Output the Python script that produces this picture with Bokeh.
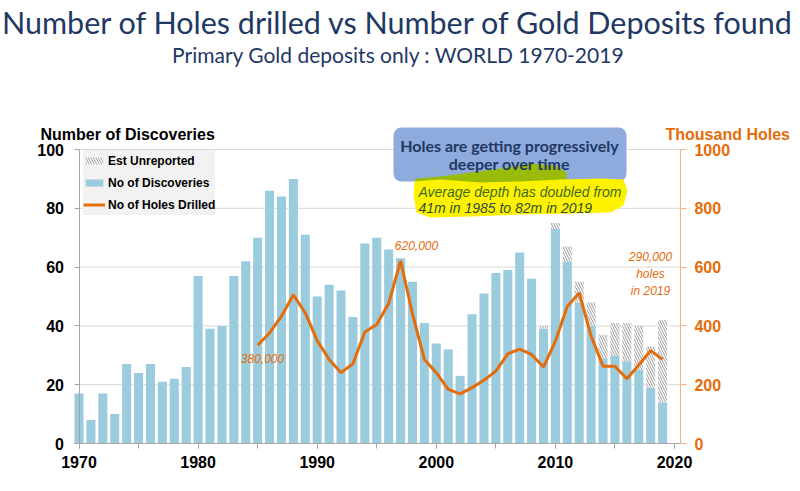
from bokeh.plotting import figure
from bokeh.models import (Range1d, LinearAxis, SingleIntervalTicker, Label, BoxAnnotation,
                          PolyAnnotation, Legend, LegendItem, ColumnDataSource)
from bokeh.embed import file_html
from bokeh.resources import INLINE

# ---------------- data ----------------
years = list(range(1970, 2020))
discoveries = [17, 8, 17, 10, 27, 24, 27, 21, 22, 26,
               57, 39, 40, 57, 62, 70, 86, 84, 90, 71,
               50, 54, 52, 43, 68, 70, 66, 63, 55, 41,
               34, 32, 23, 44, 51, 58, 59, 65, 56, 39,
               73, 62, 48, 40, 29, 30, 28, 25, 19, 14]
unreported = [0] * 39 + [1, 2, 5, 7, 8, 8, 11, 13, 15, 14, 28]

holes_years = list(range(1985, 2020))
holes_thousand = [334, 376, 433, 506, 444, 350, 286, 241, 271, 379,
                  405, 476, 621, 441, 286, 241, 184, 169, 190, 215,
                  246, 305, 321, 303, 260, 348, 467, 512, 365, 263,
                  263, 220, 267, 316, 286]

left_ticks = [0, 20, 40, 60, 80, 100]
right_ticks = [0, 200, 400, 600, 800, 1000]
x_ticks_interval = 10
x_axis_span = (1970, 2020.5)

# ---------------- styling ----------------
NAVY = "#1F3864"
ORANGE = "#E46C0A"
BAR = "#9BCCDE"
GRID = "#D9D9D9"
AXIS = "#A6A6A6"

W, H = 800, 491
PXX = 11.91            # px per year
PXY = 2.94             # px per discovery unit
X_LEFT = 1970 - 78.5 / PXX
Y_BOTTOM = -(H - 443) / PXY


def px2x(px):
    return X_LEFT + px / PXX


def px2y(py):
    return (443 - py) / PXY


p = figure(width=W, height=H, output_backend="svg", toolbar_location=None,
           x_range=Range1d(X_LEFT, X_LEFT + W / PXX),
           y_range=Range1d(Y_BOTTOM, Y_BOTTOM + H / PXY),
           min_border=0, x_axis_location=None, y_axis_location=None)
p.title.visible = False
p.extra_y_ranges = {"holes": Range1d(Y_BOTTOM * 10, (Y_BOTTOM + H / PXY) * 10)}
p.outline_line_color = None
p.grid.visible = False

# grid lines (behind bars)
p.segment(x0=x_axis_span[0], x1=x_axis_span[1], y0=left_ticks[1:], y1=left_ticks[1:],
          line_color=GRID, line_width=1)

# bars
src = ColumnDataSource(dict(year=years, disc=discoveries,
                            total=[d + u for d, u in zip(discoveries, unreported)]))
bars = p.vbar(x="year", top="disc", width=0.76, source=src,
              fill_color=BAR, line_color=None)
hatch = p.vbar(x="year", bottom="disc", top="total", width=0.76, source=src,
               fill_color="white", line_color=None,
               hatch_pattern="\\", hatch_color="#9A9A9A", hatch_scale=5, hatch_weight=1)

line = p.line(holes_years, holes_thousand, y_range_name="holes",
              line_color=ORANGE, line_width=3)

# axes (drawn at fixed locations so the frame can cover the whole canvas)
xa = LinearAxis(fixed_location=0, bounds=x_axis_span,
                ticker=SingleIntervalTicker(interval=x_ticks_interval, num_minor_ticks=2))
xa.axis_line_color = AXIS
xa.major_tick_line_color = AXIS
xa.minor_tick_line_color = AXIS
xa.major_tick_in = 0
xa.major_tick_out = 5
xa.minor_tick_in = 0
xa.minor_tick_out = 5
xa.major_label_standoff = 7
xa.major_label_text_font = "Liberation Sans"
xa.major_label_text_font_style = "bold"
xa.major_label_text_font_size = "16px"
xa.major_label_text_color = "black"
p.add_layout(xa, "below")

ya = LinearAxis(fixed_location=x_axis_span[0], bounds=(left_ticks[0], left_ticks[-1]),
                ticker=SingleIntervalTicker(interval=left_ticks[1], num_minor_ticks=0))
ya.axis_line_color = AXIS
ya.major_tick_line_color = AXIS
ya.minor_tick_line_color = None
ya.major_tick_in = 0
ya.major_tick_out = 5
ya.major_label_standoff = 10
ya.major_label_text_font = "Liberation Sans"
ya.major_label_text_font_style = "bold"
ya.major_label_text_font_size = "16px"
ya.major_label_text_color = "black"
p.add_layout(ya, "left")

ra = LinearAxis(y_range_name="holes", fixed_location=x_axis_span[1],
                bounds=(right_ticks[0], right_ticks[-1]),
                ticker=SingleIntervalTicker(interval=right_ticks[1], num_minor_ticks=0))
ra.axis_line_color = "#F4B183"
ra.major_tick_line_color = "#F4B183"
ra.minor_tick_line_color = None
ra.major_tick_in = 0
ra.major_tick_out = 6
ra.major_label_standoff = 8
ra.major_label_text_font = "Liberation Sans"
ra.major_label_text_font_style = "bold"
ra.major_label_text_font_size = "16px"
ra.major_label_text_color = ORANGE
p.add_layout(ra, "right")

# legend
legend = Legend(items=[LegendItem(label="Est Unreported", renderers=[hatch]),
                       LegendItem(label="No of Discoveries", renderers=[bars]),
                       LegendItem(label="No of Holes Drilled", renderers=[line])],
                location=(83, H - 215), orientation="vertical",
                background_fill_color="#F2F2F2", background_fill_alpha=1,
                border_line_color=None, padding=4, spacing=1, margin=0,
                glyph_width=22, glyph_height=9, label_height=21, label_standoff=3,
                label_text_font="Liberation Sans", label_text_font_style="bold",
                label_text_font_size="12px", label_text_color="black")
p.add_layout(legend)


def text(txt, cx, cy, size, color, font="Liberation Sans", style="normal", align="center"):
    p.add_layout(Label(x=px2x(cx), y=px2y(cy), text=txt, text_align=align,
                       text_baseline="middle", text_font=font, text_font_style=style,
                       text_font_size=size, text_color=color))


# titles
text("Number of Holes drilled vs Number of Gold Deposits found", 398, 21, "30.5px", NAVY, font="Lato")
text("Primary Gold deposits only : WORLD 1970-2019", 398, 54, "21px", NAVY, font="Lato")
text("Number of Discoveries", 40, 134, "16px", "black", style="bold", align="left")
text("Thousand Holes", 665, 134, "16px", ORANGE, style="bold", align="left")

# callout box + highlighter strokes
p.add_layout(BoxAnnotation(left=px2x(393), right=px2x(626), bottom=px2y(181), top=px2y(127),
                           fill_color="#8FAADC", fill_alpha=1, line_color=None,
                           border_radius=8))
green_px = [(415, 181), (415, 178), (440, 176), (470, 172), (500, 168), (530, 163),
            (555, 165), (566, 172), (566, 181), (540, 183), (500, 182), (460, 183), (430, 183)]
p.add_layout(PolyAnnotation(xs=[px2x(a) for a, b in green_px], ys=[px2y(b) for a, b in green_px],
                            fill_color="#9BBB0A", fill_alpha=1, line_color=None))
yellow_px = [(414, 181), (440, 179), (480, 182), (520, 181), (560, 179), (600, 178),
             (623, 179), (627, 190), (623, 205), (610, 212), (570, 213), (520, 214),
             (470, 216), (430, 217), (416, 212), (413, 195)]
p.add_layout(PolyAnnotation(xs=[px2x(a) for a, b in yellow_px], ys=[px2y(b) for a, b in yellow_px],
                            fill_color="#FFF200", fill_alpha=1, line_color=None))
text("Holes are getting progressively", 509, 145, "16px", NAVY, font="Lato", style="bold")
text("deeper over time", 509, 163, "16px", NAVY, font="Lato", style="bold")
text("Average depth has doubled from", 418, 191, "14px", "#3D6B21", style="italic", align="left")
text("41m in 1985 to 82m in 2019", 418, 207, "14px", "#2F4F3A", style="italic", align="left")

# value callouts
for txt, cx, cy in [("380,000", 262, 358), ("620,000", 416, 245),
                    ("290,000", 650, 256), ("holes", 650, 273), ("in 2019", 650, 290)]:
    text(txt, cx, cy, "12px", ORANGE, style="italic")

open("out.html", "w").write(file_html(p, INLINE))
